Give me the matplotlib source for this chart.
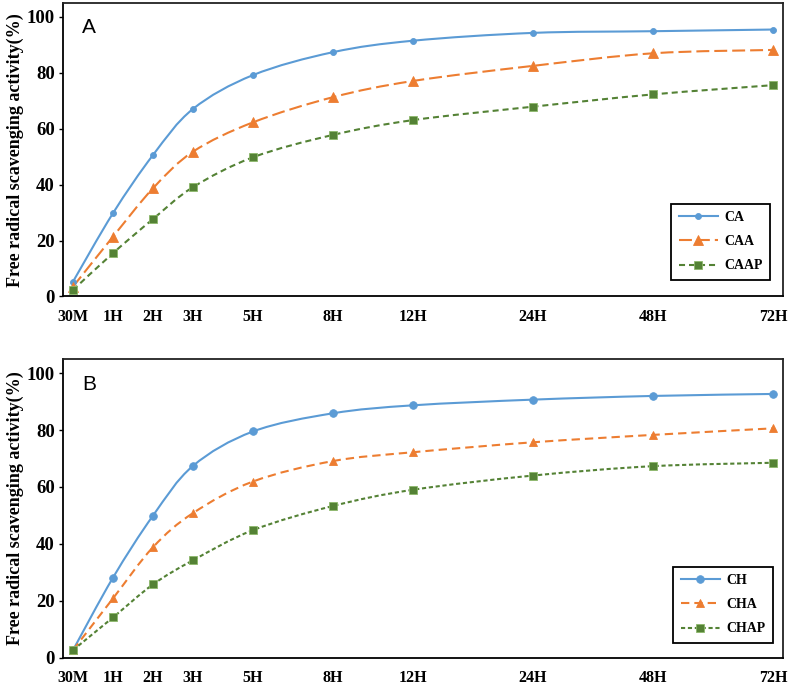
import matplotlib
matplotlib.use("Agg")
import matplotlib.pyplot as plt
import numpy as np
from matplotlib.lines import Line2D
from matplotlib.path import Path
from matplotlib.patches import PathPatch

# Data
time_labels = ["30M", "1H", "2H", "3H", "5H", "8H", "12H", "24H", "48H", "72H"]
time_pos = [0, 2, 4, 6, 9, 13, 17, 23, 29, 35]  # category spacing used on the axis

ca = [5.3, 29.8, 50.6, 67.1, 79.2, 87.4, 91.5, 94.3, 94.9, 95.5]
caa = [3.5, 21.4, 38.7, 51.8, 62.3, 71.3, 77.1, 82.5, 87.0, 88.2]
caap = [2.3, 15.5, 27.7, 39.1, 49.8, 57.8, 63.1, 67.9, 72.3, 75.6]

ch = [2.6, 28.1, 49.9, 67.4, 79.5, 85.9, 88.7, 90.7, 92.0, 92.7]
cha = [2.6, 20.8, 38.8, 50.8, 61.9, 69.1, 72.2, 75.7, 78.3, 80.6]
chap = [2.6, 14.1, 25.7, 34.2, 44.8, 53.3, 59.0, 64.0, 67.3, 68.5]

BLUE = "#5B9BD5"
ORANGE = "#ED7D31"
GREEN = "#548235"

plt.rcParams["font.family"] = ["Liberation Serif", "DejaVu Serif"]


def smooth_path(xs, ys):
    """Excel-like smoothed line as cubic Bezier segments through the points."""
    pts = np.column_stack([xs, ys]).astype(float)
    n = len(pts)
    verts = [pts[0]]
    codes = [Path.MOVETO]
    for i in range(n - 1):
        p0 = pts[max(i - 1, 0)]
        p1 = pts[i]
        p2 = pts[i + 1]
        p3 = pts[min(i + 2, n - 1)]
        c1 = p1 + (p2 - p0) / 6.0
        c2 = p2 - (p3 - p1) / 6.0
        verts += [c1, c2, p2]
        codes += [Path.CURVE4] * 3
    return Path(verts, codes)


def draw_series(ax, ys, color, ls, marker, ms, label, mec=None):
    ax.add_patch(PathPatch(smooth_path(time_pos, ys), fill=False, edgecolor=color,
                           linewidth=1.5, linestyle=ls, capstyle="butt", zorder=2))
    ax.plot(time_pos, ys, linestyle="none", marker=marker, markersize=ms,
            color=color, markeredgecolor=mec or color, markeredgewidth=0.6, zorder=3)
    return Line2D([], [], color=color, linewidth=1.5, linestyle=ls, marker=marker,
                  markersize=ms, markeredgecolor=mec or color, markeredgewidth=0.6,
                  label=label)


def style_axis(ax, letter):
    ax.set_xlim(-0.5, 35.5)
    ax.set_ylim(0, 105)
    ax.set_yticks([0, 20, 40, 60, 80, 100])
    ax.set_xticks(time_pos)
    ax.set_xticklabels(time_labels)
    for lab in ax.get_xticklabels():
        lab.set_fontweight("bold")
        lab.set_fontsize(11.5)
    for lab in ax.get_yticklabels():
        lab.set_fontweight("bold")
        lab.set_fontsize(13.5)
    ax.tick_params(axis="x", length=0, pad=9)
    ax.tick_params(axis="y", length=3, width=1, pad=3, direction="out")
    for sp in ax.spines.values():
        sp.set_color("#222222")
        sp.set_linewidth(1.3)
    ax.spines["left"].set_color("black")
    ax.spines["bottom"].set_color("black")
    ax.set_ylabel("Free radical scavenging activity(%)", fontsize=13,
                  fontweight="bold", labelpad=1.5)
    ax.text(0.027, 0.915, letter, transform=ax.transAxes, fontsize=15,
            family=["Liberation Sans", "DejaVu Sans"], va="center", ha="left")


def add_legend(ax, handles, anchor):
    leg = ax.legend(handles=handles, loc="lower right", bbox_to_anchor=anchor,
                    borderaxespad=0, prop={"weight": "bold", "size": 10},
                    fancybox=False, edgecolor="black", framealpha=1,
                    handlelength=2.8, handletextpad=0.45, labelspacing=0.8,
                    borderpad=0.55)
    leg.get_frame().set_linewidth(1.3)


fig = plt.figure(figsize=(8.0, 6.93), dpi=100)
ax_a = fig.add_axes([0.07875, 0.5722, 0.9, 0.4235])
ax_b = fig.add_axes([0.07875, 0.0512, 0.9, 0.4308])

# Panel A
h = [
    draw_series(ax_a, ca, BLUE, "-", "o", 4.3, "CA"),
    draw_series(ax_a, caa, ORANGE, (0, (6.2, 2.4)), "^", 7, "CAA"),
    draw_series(ax_a, caap, GREEN, (0, (2.9, 1.9)), "s", 6, "CAAP", mec="#8DB86B"),
]
style_axis(ax_a, "A")
add_legend(ax_a, h, (0.982, 0.056))

# Panel B
h = [
    draw_series(ax_b, ch, BLUE, "-", "o", 5.5, "CH"),
    draw_series(ax_b, cha, ORANGE, (0, (4, 2.4)), "^", 5.5, "CHA"),
    draw_series(ax_b, chap, GREEN, (0, (2, 1.3)), "s", 6, "CHAP", mec="#8DB86B"),
]
style_axis(ax_b, "B")
add_legend(ax_b, h, (0.986, 0.0486))

fig.savefig("out.png", dpi=100)
